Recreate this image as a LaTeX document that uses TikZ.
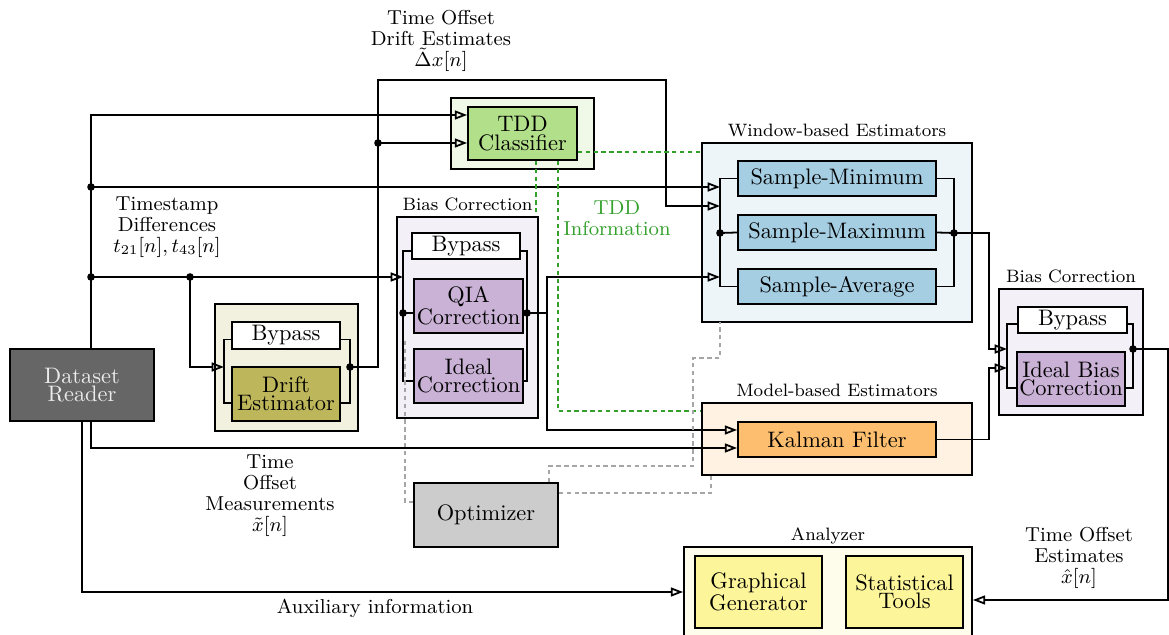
\documentclass[tikz,border=0pt]{standalone}
\usetikzlibrary{arrows.meta,fit,calc}
\definecolor{pblue}{HTML}{A6CEE3}
\definecolor{pgreen}{HTML}{B2DF8A}
\definecolor{dgreen}{HTML}{33A02C}
\definecolor{porange}{HTML}{FDBF6F}
\definecolor{ppurple}{HTML}{CAB2D6}
\definecolor{pyellow}{HTML}{FCF59A}
\definecolor{polive}{HTML}{BDB65A}
\definecolor{readergray}{HTML}{666666}
\definecolor{optgray}{HTML}{CCCCCC}
\begin{document}
\begin{tikzpicture}[x=0.4464pt, y=-0.4464pt,
  wire/.style={draw=black, line width=0.8pt},
  feed/.style={wire, -{Triangle[open, length=5.5pt, width=4pt]}},
  junction/.style={circle, fill=black, inner sep=0pt, minimum size=3.4pt},
  sz/.style 2 args={minimum width={#1*0.4464pt}, minimum height={#2*0.4464pt}},
  block/.style={draw=black, line width=0.8pt, inner sep=0pt, align=center,
                font=\fontsize{10}{8.2}\selectfont},
  group/.style={draw=black, line width=0.8pt, inner sep=0pt},
  grouptitle/.style={font=\footnotesize, anchor=base, yshift=2.7pt, inner sep=0pt},
  signal/.style={font=\fontsize{9}{9.4}\selectfont, align=center},
  tddlink/.style={draw=dgreen, line width=0.75pt, dash pattern=on 2pt off 1.5pt},
  optlink/.style={draw=gray!70, line width=0.6pt, dash pattern=on 2pt off 1.5pt},
]
\useasboundingbox (0,0) rectangle (1169,635);

% ---------- group frames ----------
\node[group, fill=polive!20,  fit={(215,304) (358,431)}] (driftgrp) {};
\node[group, fill=pgreen!20,  fit={(451,98) (594,169)}] (tddgrp) {};
\node[group, fill=ppurple!20, fit={(397,217) (538,418)}] (biasgrp) {};
\node[group, fill=pblue!20,   fit={(702,143) (972,322)}] (win) {};
\node[group, fill=porange!20, fit={(702,403) (972,475)}] (model) {};
\node[group, fill=ppurple!20, fit={(999,289) (1143,415)}] (biasgrpb) {};
\node[group, fill=pyellow!20, fit={(684,547) (972,660)}] (ana) {};

\node[grouptitle] at (biasgrp.north) {Bias Correction};
\node[grouptitle] at (win.north) {Window-based Estimators};
\node[grouptitle] at (model.north) {Model-based Estimators};
\node[grouptitle] at (biasgrpb.north) {Bias Correction};
\node[grouptitle] at (ana.north) {Analyzer};

% ---------- blocks ----------
\node[block, fill=readergray, text=white!92!black, sz={144}{72}] (reader) at (82,385) {Dataset\\Reader};
\node[block, fill=white,   sz={108}{27}] (bp1)   at (286,335.5) {Bypass};
\node[block, fill=polive,  sz={108}{54}] (drift) at (286,394) {Drift\\Estimator};
\node[block, fill=pgreen,  sz={109}{53}] (tdd)   at (522.5,133.5) {TDD\\Classifier};
\node[block, fill=white,   sz={108}{26}] (bp2)   at (466,246) {Bypass};
\node[block, fill=ppurple, sz={109}{54}] (qia)   at (468.5,306) {QIA\\Correction};
\node[block, fill=ppurple, sz={109}{54}] (ideal) at (468.5,376) {Ideal\\Correction};
\node[block, fill=pblue,   sz={198}{35}] (smin)  at (837,178.5) {Sample-Minimum};
\node[block, fill=pblue,   sz={198}{35}] (smax)  at (837,232.5) {Sample-Maximum};
\node[block, fill=pblue,   sz={198}{35}] (savg)  at (837,286.5) {Sample-Average};
\node[block, fill=porange, sz={198}{35}] (kal)   at (837,439.5) {Kalman Filter};
\node[block, fill=white,   sz={109}{26}] (bp3)   at (1072.5,320) {Bypass};
\node[block, fill=ppurple, sz={108}{54}] (ibc)   at (1071,379) {Ideal Bias\\Correction};
\node[block, fill=optgray, sz={144}{64}] (opt)   at (486,515) {Optimizer};
\node[block, fill=pyellow, sz={127}{72}] (gg)    at (758.5,592) {Graphical\\Generator};
\node[block, fill=pyellow, sz={117}{72}] (st)    at (904.5,592) {Statistical\\Tools};

% ---------- junction points ----------
\coordinate (rt) at (91,349);
\coordinate (j1) at (91,187);
\coordinate (j2) at (91,277);
\coordinate (j3) at (190,277);
\coordinate (t0) at (91,115);
\coordinate (t1) at (378,143);
\coordinate (dL) at (224,367);
\coordinate (dR) at (350,367);
\coordinate (d1) at (378,80);
\coordinate (d2) at (666,80);
\coordinate (d3) at (666,206);
\coordinate (bL) at (403,313);
\coordinate (bR) at (527,313);
\coordinate (bo) at (547,313);
\coordinate (k430) at (547,430);
\coordinate (k448) at (91,448);
\coordinate (wl) at (720,233);
\coordinate (wr) at (954,233);
\coordinate (w1) at (989,233);
\coordinate (b2L) at (1007,349);
\coordinate (k2) at (1007,368);
\coordinate (b2R) at (1133,349);
\coordinate (e1) at (1168,349);
\coordinate (e2) at (1168,600);
\coordinate (a592) at (82,592);

% ---------- parallel branches inside the groups ----------
\draw[wire] ($(bp1.west)+(0,4)$) -| (dL) |- ($(drift.west)+(0,9)$);
\draw[wire] ($(bp1.east)+(0,4)$) -| (dR) |- ($(drift.east)+(0,9)$);

\draw[wire] ($(bp2.west)+(0,5)$) -| (bL) |- ($(ideal.west)+(0,5)$);
\draw[wire] ($(bp2.east)+(0,5)$) -| (bR) |- ($(ideal.east)+(0,5)$);
\draw[wire] (bL) -- (bL -| qia.west);
\draw[wire] (bR) -- (bR -| qia.east);

\draw[wire] (smin.west) -| (wl) |- (savg.west);
\draw[wire] (wl) -- (smax.west);
\draw[wire] (smin.east) -| (wr) |- (savg.east);
\draw[wire] (wr) -- (smax.east);

\draw[wire] ($(bp3.west)+(0,4)$) -| (b2L) |- ($(ibc.west)+(0,9)$);
\draw[wire] ($(bp3.east)+(0,4)$) -| (b2R) |- ($(ibc.east)+(0,9)$);

% ---------- signal flow ----------
\draw[feed] (rt) -- (t0) -- (t0 -| tdd.west);
\draw[feed] (j1) -- (j1 -| wl);
\draw[feed] (j2) -- (j2 -| bL);
\draw[feed] (j3) |- (dL);
\draw[feed] (dR) -| (d1) -- (d2) -- (d3) -- (d3 -| wl);
\draw[feed] (t1) -- (t1 -| tdd.west);
\draw[feed] (bR) -- (bo) |- (j2 -| wl);
\draw[feed] (bo) -- (k430) -- (k430 -| kal.west);
\draw[feed] (reader.south -| rt) -- (k448) -- (k448 -| kal.west);
\draw[feed] (reader.south) -- (a592) -- (a592 -| ana.west);
\draw[feed] (wr) -- (w1) |- (b2L);
\draw[feed] (kal.east) -| (w1 |- k2) -- (k2);
\draw[feed] (b2R) -- (e1) -- (e2) -- (e2 -| ana.east);

% ---------- classifier information ----------
\draw[tddlink] ($(tdd.east)+(0,18.5)$) coordinate (g1) -- (g1 -| win.west);
\draw[tddlink] ($(tdd.south)+(13.5,0)$) -- ++(0,52);
\draw[tddlink] ($(tdd.south)+(35.5,0)$) |- ($(model.north west)+(0,9)$);

% ---------- optimizer links ----------
\draw[optlink] ($(opt.west)+(0,-13)$) -| (405,338);
\draw[optlink] ($(opt.north)+(63,0)$) |- (693,466) |- (720,358) -- (720,322);
\draw[optlink] ($(opt.east)+(0,-22)$) -| (711,475);

% ---------- junction dots ----------
\foreach \p in {j1,j2,j3,t1,dR,bL,bR,wl,wr,b2R}
  \node[junction] at (\p) {};

% ---------- signal labels ----------
\node[signal] at (441,41) {Time Offset\\Drift Estimates\\$\tilde{\Delta}x[n]$};
\node[signal] at (167,227) {Timestamp\\Differences\\$t_{21}[n], t_{43}[n]$};
\node[signal, text=dgreen] at (617,218) {TDD\\Information};
\node[signal] at (270,496) {Time\\Offset\\Measurements\\$\tilde{x}[n]$};
\node[signal] at (375,608) {Auxiliary information};
\node[signal] at (1079,558) {Time Offset\\Estimates\\$\hat{x}[n]$};
\end{tikzpicture}
\end{document}
